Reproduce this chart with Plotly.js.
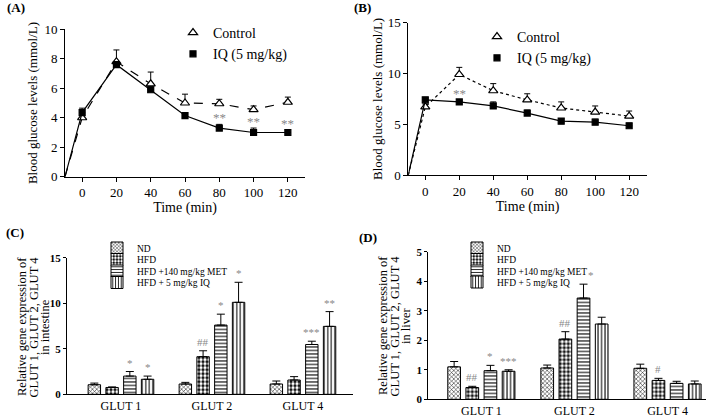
<!DOCTYPE html>
<html><head><meta charset="utf-8">
<script src="https://cdn.plot.ly/plotly-3.0.1.min.js"></script>
<style>html,body{margin:0;padding:0;background:#fff}#chart{width:709px;height:418px}</style>
</head><body><div id="chart"></div>
<script>
// ---------- Data ----------
const startTime = -10;
const startLevel = 0;
const time = [0, 20, 40, 60, 80, 100, 120];

// (A) OGTT
const ogttControl = [4.0, 7.8, 6.3, 5.0, 4.95, 4.55, 5.05];
const ogttControlErr = [0.15, 0.8, 0.8, 0.6, 0.3, 0.25, 0.35];
const ogttIQ = [4.35, 7.6, 5.9, 4.15, 3.3, 3.0, 3.0];
const ogttIQErr = [0.3, 0.2, 0.2, 0.2, 0.25, 0.3, 0.2];
const ogttSig = ['', '', '', '', '**', '**', '**'];

// (B) ITT
const ittControl = [6.7, 9.9, 8.3, 7.4, 6.6, 6.2, 5.8];
const ittControlErr = [0.3, 0.7, 0.7, 0.6, 0.6, 0.6, 0.5];
const ittIQ = [7.4, 7.2, 6.8, 6.1, 5.3, 5.2, 4.85];
const ittIQErr = [0.2, 0.2, 0.4, 0.3, 0.25, 0.3, 0.25];
const ittSig = ['', '**', '', '', '', '', ''];

const lineNames = ['Control', 'IQ (5 mg/kg)'];

// (C)/(D) gene expression
const genes = ['GLUT 1', 'GLUT 2', 'GLUT 4'];
const groups = ['ND', 'HFD', 'HFD +140 mg/kg MET', 'HFD + 5 mg/kg IQ'];

const intND = [1.05, 1.13, 1.13];
const intNDErr = [0.18, 0.18, 0.33];
const intHFD = [0.75, 4.13, 1.57];
const intHFDErr = [0.06, 0.65, 0.37];
const intMET = [2.0, 7.6, 5.47];
const intMETErr = [0.5, 1.2, 0.36];
const intIQ = [1.65, 10.1, 7.46];
const intIQErr = [0.35, 2.2, 1.62];
const intSigND = ['', '', ''];
const intSigHFD = ['', '##', ''];
const intSigMET = ['*', '*', '***'];
const intSigIQ = ['*', '*', '**'];

const livND = [1.1, 1.06, 1.05];
const livNDErr = [0.18, 0.1, 0.14];
const livHFD = [0.4, 2.04, 0.64];
const livHFDErr = [0.04, 0.25, 0.07];
const livMET = [0.97, 3.43, 0.54];
const livMETErr = [0.18, 0.47, 0.07];
const livIQ = [0.95, 2.55, 0.52];
const livIQErr = [0.05, 0.23, 0.1];
const livSigND = ['', '', ''];
const livSigHFD = ['##', '##', '#'];
const livSigMET = ['*', '*', ''];
const livSigIQ = ['***', '', ''];

const geneTitleC = ['Relative gene expression of', 'GLUT 1, GLUT 2, GLUT 4', 'in intestine'];
const geneTitleD = ['Relative gene expression of', 'GLUT 1, GLUT 2, GLUT 4', 'in liver'];

// ---------- Build ----------
const FONT = '"Liberation Serif", "Times New Roman", Times, serif';
const W = 709, H = 418;
const px = v => v / W;
const py = v => 1 - v / H;
const genePos = genes.map((g, i) => i);
const BARGAP = 0.22, GROUPGAP = 0.3;
const slot = (1 - BARGAP) / groups.length;

const traces = [];
const annotations = [];
const legends = {};

function lineSeries(vals, errs, name, dash, symbol, size, fill, xa, ya, leg) {
  traces.push({
    x: [startTime].concat(time), y: [startLevel].concat(vals),
    xaxis: xa, yaxis: ya, mode: 'lines', showlegend: false, hoverinfo: 'skip',
    line: {color: '#000', width: 1.2, dash: dash}
  });
  traces.push({
    x: time, y: vals, xaxis: xa, yaxis: ya, mode: 'markers', name: name, legend: leg,
    marker: {symbol: symbol, size: size, color: fill, line: {color: '#000', width: 1.2}},
    error_y: {type: 'data', symmetric: false, array: errs, arrayminus: errs.map(() => 0),
              color: '#000', thickness: 1, width: 3}
  });
}
lineSeries(ogttControl, ogttControlErr, lineNames[0], 'dash', 'triangle-up', 8, '#fff', 'x', 'y', 'legend');
lineSeries(ogttIQ, ogttIQErr, lineNames[1], 'solid', 'square', 6, '#000', 'x', 'y', 'legend');
lineSeries(ittControl, ittControlErr, lineNames[0], 'dot', 'triangle-up', 8, '#fff', 'x2', 'y2', 'legend2');
lineSeries(ittIQ, ittIQErr, lineNames[1], 'solid', 'square', 6, '#000', 'x2', 'y2', 'legend2');

function lineSig(vals, errs, sig, xr, yr) {
  sig.forEach((s, i) => {
    if (!s) return;
    annotations.push({xref: xr, yref: yr, x: time[i], y: vals[i] + errs[i], text: s,
      showarrow: false, yanchor: 'bottom', yshift: -3,
      font: {family: FONT, size: 13, color: '#888'}});
  });
}
lineSig(ogttIQ, ogttIQErr, ogttSig, 'x', 'y');
lineSig(ittIQ, ittIQErr, ittSig, 'x2', 'y2');

const patterns = [
  {shape: 'x', size: 3, solidity: 0.3, fgcolor: '#000', bgcolor: '#fff'},
  {shape: '.', size: 4, solidity: 0.55, fgcolor: '#fff', bgcolor: '#000'},
  {shape: '-', size: 3.5, solidity: 0.3, fgcolor: '#000', bgcolor: '#fff'},
  {shape: '|', size: 3.5, solidity: 0.3, fgcolor: '#000', bgcolor: '#fff'}
];

function barSet(valsArr, errArr, sigArr, xa, ya, legStart, legX, rowYs, sigShift) {
  valsArr.forEach((vals, k) => {
    const leg = 'legend' + (legStart + k);
    legends[leg] = {x: px(legX), y: py(rowYs[k]), xanchor: 'left', yanchor: 'middle',
      bgcolor: 'rgba(0,0,0,0)', font: {family: FONT, size: 9.5, color: '#000'},
      itemclick: false, itemdoubleclick: false};
    traces.push({
      type: 'bar', x: genePos, y: vals, name: groups[k], xaxis: xa, yaxis: ya, legend: leg,
      marker: {color: patterns[k].bgcolor, line: {color: '#000', width: 1}, pattern: patterns[k]},
      error_y: {type: 'data', symmetric: false, array: errArr[k], arrayminus: errArr[k].map(() => 0),
                color: '#000', thickness: 1, width: 4}
    });
    sigArr[k].forEach((s, i) => {
      if (!s) return;
      annotations.push({xref: xa, yref: ya, x: genePos[i] + (k - (groups.length - 1) / 2) * slot,
        y: vals[i] + errArr[k][i], text: s, showarrow: false, yanchor: 'bottom', yshift: 1,
        xshift: sigShift[k][i], font: {family: FONT, size: 11, color: '#888'}});
    });
  });
}
barSet([intND, intHFD, intMET, intIQ], [intNDErr, intHFDErr, intMETErr, intIQErr],
       [intSigND, intSigHFD, intSigMET, intSigIQ], 'x3', 'y3', 3, 97, [248, 259.5, 271, 282.5],
       [[0, 0, 0], [0, 0, 0], [0, 0, 0], [0, 0, 0]]);
barSet([livND, livHFD, livMET, livIQ], [livNDErr, livHFDErr, livMETErr, livIQErr],
       [livSigND, livSigHFD, livSigMET, livSigIQ], 'x4', 'y4', 7, 457, [248, 259.5, 271, 282],
       [[0, 0, 0], [0, 0, 0], [0, 7, 0], [0, 0, 0]]);

// Panel labels
[['(A)', 16, 8], ['(B)', 362, 8], ['(C)', 15, 232], ['(D)', 368, 237]].forEach(p => {
  annotations.push({xref: 'paper', yref: 'paper', x: px(p[1]), y: py(p[2]), text: '<b>' + p[0] + '</b>',
    showarrow: false, xanchor: 'center', yanchor: 'middle', font: {family: FONT, size: 13, color: '#000'}});
});

// Three-line y-axis titles of (C) and (D)
function stackedTitle(lines, xs, yc) {
  lines.forEach((t, i) => {
    annotations.push({xref: 'paper', yref: 'paper', x: px(xs[i]), y: py(yc), text: t, textangle: -90,
      showarrow: false, xanchor: 'center', yanchor: 'middle', font: {family: FONT, size: 12.5, color: '#000'}});
  });
}
stackedTitle(geneTitleC, [22, 33.5, 45], 327);
stackedTitle(geneTitleD, [383, 394.5, 406], 326);

const axBase = {showline: true, linecolor: '#000', linewidth: 1, ticks: 'outside', ticklen: 4,
  tickwidth: 1, tickcolor: '#000', showgrid: false, zeroline: false, automargin: false, fixedrange: true,
  tickfont: {family: FONT, size: 13, color: '#000'}};

const ytitle = 'Blood glucose levels (mmol/L)';
const timeTitle = 'Time (min)';

const layout = Object.assign({
  width: W, height: H, margin: {l: 0, r: 0, t: 0, b: 0},
  paper_bgcolor: '#fff', plot_bgcolor: '#fff', showlegend: true,
  barmode: 'group', bargap: BARGAP, bargroupgap: GROUPGAP,
  font: {family: FONT, color: '#000'},
  xaxis: Object.assign({}, axBase, {domain: [px(65), px(305)], range: [-10, 130], tickvals: time,
    anchor: 'y', title: {text: timeTitle, font: {family: FONT, size: 14}, standoff: 0}}),
  yaxis: Object.assign({}, axBase, {domain: [1 - 176.7 / H, 1 - 29.3 / H], range: [0, 10], dtick: 2,
    anchor: 'x', title: {text: ytitle, font: {family: FONT, size: 13}, standoff: 3}}),
  xaxis2: Object.assign({}, axBase, {domain: [px(408.3), px(647)], range: [-10, 130.5], tickvals: time,
    anchor: 'y2', title: {text: timeTitle, font: {family: FONT, size: 14}, standoff: 0}}),
  yaxis2: Object.assign({}, axBase, {domain: [1 - 175 / H, 1 - 22.7 / H], range: [0, 15], dtick: 5,
    anchor: 'x2', title: {text: ytitle, font: {family: FONT, size: 13}, standoff: 2}}),
  xaxis3: Object.assign({}, axBase, {domain: [px(67), px(353)], range: [-0.593, 2.55], tickvals: genePos,
    ticktext: genes, ticks: '', ticklen: 0, anchor: 'y3', tickfont: {family: FONT, size: 12, color: '#000'}}),
  yaxis3: Object.assign({}, axBase, {domain: [1 - 394.3 / H, 1 - 257.7 / H], range: [0, 15], dtick: 5,
    ticklen: 3, anchor: 'x3', tickfont: {family: FONT, size: 11, color: '#000', weight: 'bold'}}),
  xaxis4: Object.assign({}, axBase, {domain: [px(428.3), px(705.7)], range: [-0.57, 2.41], tickvals: genePos,
    ticktext: genes, ticks: '', ticklen: 0, anchor: 'y4', tickfont: {family: FONT, size: 12, color: '#000'}}),
  yaxis4: Object.assign({}, axBase, {domain: [1 - 399.3 / H, 1 - 251.7 / H], range: [0, 5], dtick: 1,
    ticklen: 3, anchor: 'x4', tickfont: {family: FONT, size: 11, color: '#000', weight: 'bold'}}),
  legend: {x: px(173), y: py(17), xanchor: 'left', yanchor: 'top', bgcolor: 'rgba(0,0,0,0)',
    font: {family: FONT, size: 14}, itemclick: false, itemdoubleclick: false},
  legend2: {x: px(477), y: py(21), xanchor: 'left', yanchor: 'top', bgcolor: 'rgba(0,0,0,0)',
    font: {family: FONT, size: 14}, itemclick: false, itemdoubleclick: false},
  annotations: annotations
}, legends);

Plotly.newPlot('chart', traces, layout, {displayModeBar: false, staticPlot: true});
</script>
</body></html>
